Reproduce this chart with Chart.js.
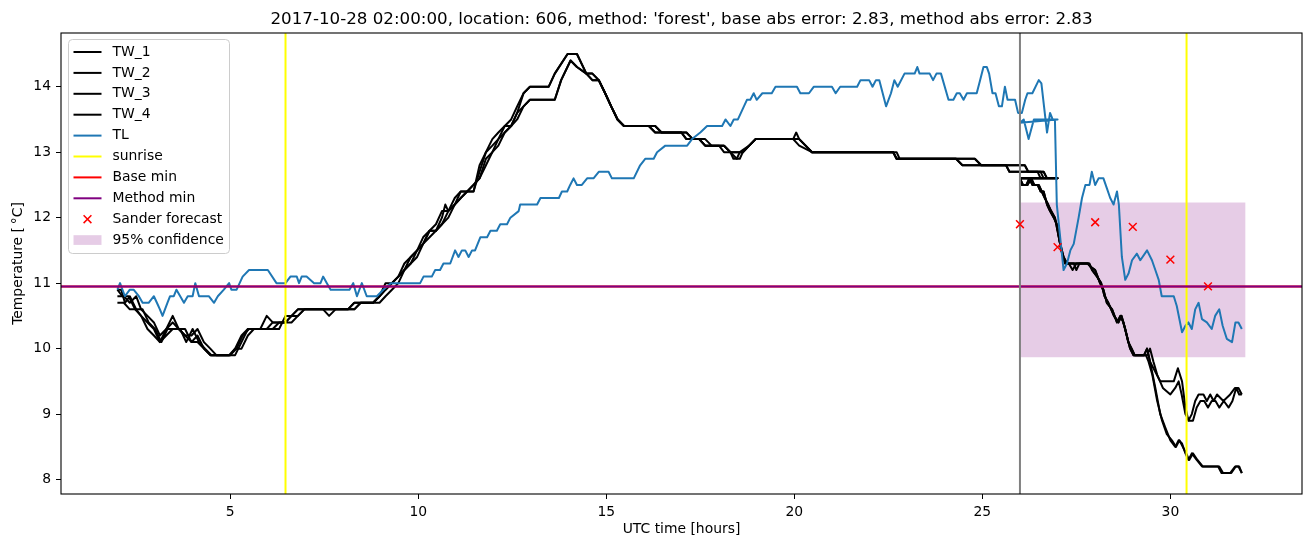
<!DOCTYPE html>
<html>
<head>
<meta charset="utf-8">
<script src="https://cdn.jsdelivr.net/npm/chart.js@4.4.1/dist/chart.umd.min.js"></script>
<style>
  html, body { margin: 0; padding: 0; background: #fff; }
  canvas { display: block; }
</style>
</head>
<body>
<canvas id="temp-chart" width="1311" height="547"></canvas>
<script>
const titleText = "2017-10-28 02:00:00, location: 606, method: 'forest', base abs error: 2.83, method abs error: 2.83";
const xLabel = "UTC time [hours]";
const yLabel = "Temperature [\u2009\u00B0C]";
const xTicks = [5, 10, 15, 20, 25, 30];
const yTicks = [8, 9, 10, 11, 12, 13, 14];
const xRange = [0.5, 33.5];
const yRange = [7.78, 14.82];

// [hour, temperature]; each series jumps back to 26 h where the forecast part starts
const tw1 = [
  [2.0,10.9],[2.13,10.8],[2.3,10.8],[2.47,10.6],[2.63,10.5],[2.8,10.4],[2.97,10.3],[3.13,10.1],[3.3,10.3],[3.47,10.5],
  [3.63,10.3],[3.8,10.3],[3.97,10.1],[4.13,10.2],[4.3,10.0],[4.47,9.9],[4.97,9.9],[5.13,10.0],[5.3,10.2],[5.47,10.3],
  [5.97,10.3],[6.13,10.4],[6.47,10.4],[6.63,10.5],[6.8,10.6],[7.47,10.6],[7.63,10.5],[7.8,10.6],[8.13,10.6],[8.3,10.7],
  [8.8,10.7],[8.97,10.8],[9.13,10.9],[9.3,11.0],[9.47,11.1],[9.63,11.2],[9.8,11.4],[9.97,11.5],[10.13,11.6],[10.3,11.8],
  [10.47,11.8],[10.63,12.0],[10.72,12.2],[10.8,12.1],[10.97,12.2],[11.13,12.4],[11.47,12.4],[11.63,12.7],[11.8,13.0],[11.97,13.1],
  [12.13,13.2],[12.3,13.4],[12.47,13.4],[12.63,13.6],[12.8,13.9],[12.97,14.0],[13.47,14.0],[13.63,14.2],[13.97,14.5],[14.22,14.5],
  [14.47,14.2],[14.63,14.2],[14.8,14.1],[14.97,13.9],[15.13,13.7],[15.3,13.5],[15.47,13.4],[16.13,13.4],[16.3,13.3],[17.0,13.3],
  [17.13,13.2],[17.47,13.2],[17.63,13.1],[18.0,13.1],[18.13,13.0],[18.3,13.0],[18.47,12.9],[18.55,12.9],[18.63,13.0],[18.8,13.1],
  [18.97,13.2],[19.97,13.2],[20.13,13.1],[20.47,13.0],[22.63,13.0],[22.72,12.9],[24.3,12.9],[24.47,12.8],[25.63,12.8],[25.72,12.7],
  [26.63,12.7],[26.72,12.6],[27.0,12.6],
  [26.0,12.6],[26.05,12.5],[26.17,12.5],[26.25,12.6],[26.33,12.5],[26.47,12.5],[26.55,12.4],[26.63,12.4],[26.72,12.2],[26.8,12.1],
  [26.9,12.0],[26.98,11.9],[27.07,11.6],[27.16,11.4],[27.25,11.3],[27.8,11.3],[27.88,11.25],[28.0,11.2],[28.13,11.0],[28.22,10.9],
  [28.31,10.7],[28.45,10.6],[28.58,10.4],[28.67,10.5],[28.75,10.4],[28.84,10.2],[28.93,10.0],[29.02,9.9],[29.3,9.9],[29.38,10.0],
  [29.46,9.8],[29.6,9.4],[29.73,9.0],[29.86,8.8],[30.0,8.6],[30.13,8.5],[30.22,8.6],[30.31,8.55],[30.4,8.4],[30.48,8.3],
  [30.57,8.4],[30.7,8.3],[30.84,8.2],[31.27,8.2],[31.36,8.1],[31.59,8.1],[31.72,8.2],[31.81,8.2],[31.9,8.1]
];
const tw2 = [
  [2.0,10.8],[2.17,10.8],[2.33,10.7],[2.5,10.8],[2.63,10.6],[2.8,10.5],[2.97,10.4],[3.13,10.2],[3.3,10.3],[3.47,10.4],
  [3.63,10.3],[3.8,10.2],[3.97,10.2],[4.13,10.3],[4.3,10.1],[4.47,10.0],[4.63,9.9],[5.13,9.9],[5.3,10.1],[5.47,10.3],
  [5.8,10.3],[5.97,10.5],[6.13,10.4],[6.47,10.4],[6.63,10.5],[6.8,10.6],[8.3,10.6],[8.47,10.7],[8.8,10.7],[8.97,10.8],
  [9.13,11.0],[9.3,11.0],[9.47,11.1],[9.63,11.3],[9.8,11.4],[9.97,11.5],[10.13,11.7],[10.3,11.8],[10.47,11.9],[10.63,12.1],
  [10.8,12.1],[10.97,12.3],[11.13,12.4],[11.47,12.4],[11.63,12.8],[11.8,13.0],[11.97,13.2],[12.13,13.3],[12.3,13.4],[12.47,13.5],
  [12.63,13.7],[12.8,13.9],[12.97,14.0],[13.47,14.0],[13.63,14.2],[13.97,14.5],[14.22,14.5],[14.47,14.2],[14.63,14.1],[14.8,14.1],
  [14.97,13.9],[15.13,13.7],[15.3,13.5],[15.47,13.4],[16.3,13.4],[16.47,13.3],[17.13,13.3],[17.3,13.2],[17.47,13.2],[17.63,13.1],
  [18.13,13.1],[18.3,13.0],[18.63,13.0],[18.8,13.1],[18.97,13.2],[20.13,13.2],[20.3,13.1],[20.47,13.0],[22.63,13.0],[22.72,12.9],
  [24.8,12.9],[24.97,12.8],[26.13,12.8],[26.22,12.7],[26.63,12.7],[26.72,12.6],[27.0,12.6],
  [26.0,12.6],[26.05,12.5],[26.17,12.5],[26.25,12.6],[26.33,12.5],[26.47,12.5],[26.55,12.4],[26.63,12.4],[26.72,12.2],[26.8,12.1],
  [26.9,12.0],[26.98,11.9],[27.07,11.6],[27.16,11.4],[27.25,11.3],[27.43,11.3],[27.5,11.2],[27.58,11.3],[27.8,11.3],[27.88,11.25],
  [28.0,11.2],[28.13,11.0],[28.22,10.9],[28.31,10.7],[28.45,10.6],[28.58,10.4],[28.67,10.5],[28.75,10.4],[28.84,10.2],[28.93,10.0],
  [29.02,9.9],[29.3,9.9],[29.38,10.0],[29.46,9.8],[29.55,9.7],[29.73,9.5],[30.09,9.5],[30.2,9.7],[30.31,9.5],[30.4,9.1],
  [30.48,8.9],[30.57,9.0],[30.66,9.2],[30.75,9.3],[30.88,9.3],[30.97,9.2],[31.06,9.3],[31.15,9.2],[31.24,9.3],[31.41,9.2],
  [31.59,9.3],[31.72,9.4],[31.81,9.4],[31.9,9.3]
];
const tw3 = [
  [2.0,10.7],[2.17,10.7],[2.33,10.6],[2.5,10.6],[2.63,10.5],[2.8,10.3],[2.97,10.2],[3.13,10.1],[3.3,10.2],[3.47,10.3],
  [3.63,10.3],[3.8,10.2],[3.97,10.1],[4.13,10.1],[4.3,10.0],[4.47,9.9],[5.0,9.9],[5.13,10.0],[5.3,10.0],[5.47,10.2],
  [5.63,10.3],[6.13,10.3],[6.3,10.4],[6.63,10.4],[6.8,10.5],[6.97,10.6],[8.3,10.6],[8.47,10.7],[8.97,10.7],[9.13,10.8],
  [9.3,10.9],[9.47,11.0],[9.63,11.2],[9.8,11.3],[9.97,11.4],[10.13,11.6],[10.3,11.7],[10.47,11.8],[10.63,11.9],[10.8,12.0],
  [10.97,12.2],[11.13,12.3],[11.3,12.4],[11.63,12.6],[11.8,12.8],[11.97,13.0],[12.13,13.1],[12.3,13.3],[12.47,13.4],[12.63,13.5],
  [12.8,13.7],[12.97,13.8],[13.63,13.8],[13.8,14.1],[14.05,14.4],[14.22,14.3],[14.47,14.2],[14.63,14.2],[14.8,14.1],[14.97,13.9],
  [15.13,13.7],[15.3,13.5],[15.47,13.4],[16.13,13.4],[16.3,13.3],[17.13,13.3],[17.3,13.2],[17.63,13.2],[17.8,13.1],[18.13,13.1],
  [18.3,13.0],[18.63,13.0],[18.8,13.1],[18.97,13.2],[19.97,13.2],[20.05,13.3],[20.13,13.2],[20.3,13.1],[20.47,13.0],[22.63,13.0],
  [22.72,12.9],[24.3,12.9],[24.47,12.8],[25.63,12.8],[25.72,12.7],[26.47,12.7],[26.55,12.6],[27.0,12.6],
  [26.0,12.6],[26.08,12.5],[26.2,12.5],[26.3,12.6],[26.38,12.5],[26.5,12.5],[26.58,12.4],[26.66,12.3],[26.75,12.2],[26.83,12.1],
  [26.93,12.0],[27.0,11.8],[27.1,11.5],[27.2,11.3],[27.3,11.3],[27.4,11.2],[27.5,11.3],[27.83,11.3],[27.92,11.2],[28.05,11.1],
  [28.16,11.0],[28.25,10.8],[28.35,10.7],[28.5,10.5],[28.62,10.4],[28.7,10.5],[28.8,10.3],[28.88,10.1],[28.97,10.0],[29.05,9.9],
  [29.35,9.9],[29.42,9.8],[29.52,9.6],[29.65,9.2],[29.78,8.9],[29.9,8.7],[30.04,8.6],[30.15,8.5],[30.24,8.6],[30.33,8.5],
  [30.42,8.4],[30.5,8.3],[30.6,8.4],[30.72,8.3],[30.86,8.2],[31.3,8.2],[31.4,8.1],[31.62,8.1],[31.74,8.2],[31.83,8.2],[31.9,8.1]
];
const tw4 = [
  [2.0,10.9],[2.1,10.9],[2.2,10.7],[2.33,10.8],[2.5,10.6],[2.67,10.6],[2.83,10.4],[3.0,10.3],[3.17,10.1],[3.33,10.3],
  [3.5,10.3],[3.67,10.3],[3.83,10.1],[4.0,10.3],[4.17,10.1],[4.33,10.0],[4.5,9.9],[5.0,9.9],[5.17,10.0],[5.33,10.2],
  [5.5,10.3],[6.3,10.3],[6.47,10.5],[6.8,10.5],[6.97,10.6],[8.13,10.6],[8.3,10.7],[8.8,10.7],[8.97,10.8],[9.13,10.9],
  [9.3,11.0],[9.47,11.1],[9.63,11.2],[9.8,11.3],[9.97,11.5],[10.13,11.6],[10.3,11.8],[10.47,11.8],[10.63,11.9],[10.8,12.1],
  [10.97,12.2],[11.13,12.3],[11.3,12.4],[11.47,12.5],[11.63,12.6],[11.8,12.9],[11.97,13.0],[12.13,13.2],[12.3,13.3],[12.47,13.4],
  [12.63,13.6],[12.8,13.7],[12.97,13.8],[13.63,13.8],[13.8,14.1],[14.05,14.4],[14.22,14.3],[14.47,14.2],[14.63,14.1],[14.8,14.1],
  [14.97,13.9],[15.13,13.7],[15.3,13.5],[15.47,13.4],[16.3,13.4],[16.47,13.3],[17.0,13.3],[17.13,13.2],[17.47,13.2],[17.63,13.1],
  [18.13,13.1],[18.3,13.0],[18.38,12.9],[18.47,12.9],[18.55,13.0],[18.8,13.1],[18.97,13.2],[20.13,13.2],[20.3,13.1],[20.47,13.0],
  [22.72,13.0],[22.8,12.9],[24.8,12.9],[24.97,12.8],[26.13,12.8],[26.22,12.7],[26.55,12.7],[26.63,12.6],[27.0,12.6],
  [26.0,12.6],[26.08,12.5],[26.2,12.5],[26.3,12.6],[26.38,12.5],[26.5,12.5],[26.58,12.4],[26.66,12.3],[26.75,12.2],[26.83,12.1],
  [26.93,12.0],[27.0,11.8],[27.1,11.5],[27.2,11.3],[27.85,11.3],[27.92,11.2],[28.05,11.1],[28.16,11.0],[28.25,10.8],[28.35,10.7],
  [28.5,10.5],[28.62,10.4],[28.7,10.5],[28.8,10.3],[28.88,10.1],[28.97,10.0],[29.05,9.9],[29.38,9.9],[29.46,10.0],[29.55,9.8],
  [29.65,9.6],[29.8,9.4],[30.0,9.3],[30.13,9.4],[30.22,9.5],[30.3,9.3],[30.4,9.0],[30.5,8.9],[30.6,8.9],[30.7,9.1],
  [30.8,9.2],[30.9,9.2],[31.0,9.1],[31.1,9.2],[31.2,9.2],[31.3,9.1],[31.42,9.2],[31.55,9.1],[31.65,9.2],[31.75,9.4],
  [31.83,9.3],[31.9,9.3]
];
const tl = [
  [2.0,10.9],[2.07,11.0],[2.2,10.8],[2.33,10.9],[2.43,10.9],[2.57,10.8],[2.67,10.7],[2.83,10.7],[2.97,10.8],[3.05,10.7],
  [3.13,10.6],[3.2,10.5],[3.33,10.7],[3.4,10.8],[3.5,10.8],[3.57,10.9],[3.67,10.8],[3.77,10.7],[3.87,10.8],[4.0,10.8],
  [4.07,11.0],[4.17,10.8],[4.43,10.8],[4.57,10.7],[4.67,10.8],[4.83,10.9],[4.97,11.0],[5.03,10.9],[5.17,10.9],[5.33,11.1],
  [5.5,11.2],[6.0,11.2],[6.23,11.0],[6.47,11.0],[6.6,11.1],[6.77,11.1],[6.83,11.0],[6.9,11.1],[7.03,11.1],[7.23,11.0],
  [7.4,11.0],[7.47,11.1],[7.57,11.0],[7.67,10.9],[8.17,10.9],[8.27,11.0],[8.37,10.8],[8.5,11.0],[8.63,10.8],[8.9,10.8],
  [9.07,10.9],[9.27,11.0],[10.05,11.0],[10.14,11.1],[10.36,11.1],[10.45,11.2],[10.58,11.2],[10.67,11.3],[10.85,11.3],[10.98,11.5],
  [11.07,11.4],[11.16,11.5],[11.25,11.5],[11.34,11.4],[11.43,11.5],[11.51,11.5],[11.65,11.7],[11.83,11.7],[11.92,11.8],[12.09,11.8],
  [12.18,11.9],[12.36,11.9],[12.45,12.0],[12.67,12.1],[12.71,12.2],[13.16,12.2],[13.25,12.3],[13.74,12.3],[13.82,12.4],[13.96,12.4],
  [14.04,12.5],[14.13,12.6],[14.22,12.5],[14.35,12.5],[14.49,12.6],[14.66,12.6],[14.8,12.7],[15.06,12.7],[15.15,12.6],[15.73,12.6],
  [15.9,12.8],[16.04,12.9],[16.26,12.9],[16.35,13.0],[16.57,13.1],[17.15,13.1],[17.28,13.2],[17.5,13.3],[17.68,13.4],[18.08,13.4],
  [18.17,13.5],[18.3,13.4],[18.39,13.5],[18.5,13.5],[18.74,13.8],[18.83,13.8],[18.92,13.9],[19.0,13.8],[19.15,13.9],[19.4,13.9],
  [19.5,14.0],[20.07,14.0],[20.16,13.9],[20.39,13.9],[20.52,14.0],[21.0,14.0],[21.1,13.9],[21.22,14.0],[21.67,14.0],[21.76,14.1],
  [21.99,14.1],[22.08,14.0],[22.17,14.1],[22.26,14.1],[22.44,13.7],[22.57,13.9],[22.66,14.1],[22.75,14.0],[22.93,14.2],[23.2,14.2],
  [23.27,14.3],[23.33,14.2],[23.6,14.2],[23.69,14.1],[23.78,14.2],[23.9,14.2],[24.1,13.8],[24.23,13.8],[24.32,13.9],[24.4,13.9],
  [24.5,13.8],[24.59,13.9],[24.85,13.9],[24.94,14.1],[25.03,14.3],[25.12,14.3],[25.18,14.2],[25.27,13.9],[25.35,13.9],[25.44,13.7],
  [25.52,13.7],[25.6,14.0],[25.67,13.8],[25.87,13.8],[25.95,13.6],[26.05,13.6],[26.14,13.8],[26.2,13.9],[26.33,13.9],[26.5,14.1],
  [26.57,14.05],[26.64,13.7],[26.72,13.3],[26.8,13.6],[26.87,13.5],[27.0,13.5],
  [26.0,13.45],[26.1,13.5],[26.23,13.2],[26.37,13.5],[26.93,13.5],[26.98,12.2],[27.16,11.2],[27.25,11.3],[27.34,11.5],[27.43,11.6],
  [27.56,12.0],[27.65,12.3],[27.74,12.5],[27.85,12.5],[27.91,12.7],[28.0,12.5],[28.09,12.6],[28.22,12.6],[28.31,12.45],[28.4,12.3],
  [28.49,12.2],[28.58,12.4],[28.63,12.2],[28.71,11.4],[28.8,11.05],[28.89,11.15],[28.98,11.35],[29.11,11.45],[29.2,11.35],[29.38,11.5],
  [29.51,11.35],[29.6,11.2],[29.69,11.05],[29.77,10.8],[30.09,10.8],[30.17,10.65],[30.31,10.25],[30.4,10.35],[30.48,10.4],[30.57,10.3],
  [30.66,10.6],[30.75,10.7],[30.84,10.45],[30.97,10.4],[31.1,10.3],[31.19,10.5],[31.3,10.6],[31.39,10.35],[31.5,10.15],[31.64,10.1],
  [31.73,10.4],[31.81,10.4],[31.9,10.3]
];

const sunriseHours = [6.47, 30.43];
const forecastStart = 26;
const baseMin = 10.95;
const methodMin = 10.95;
const sanderHours = [26, 27, 28, 29, 30, 31];
const sanderValues = [11.9, 11.55, 11.93, 11.86, 11.36, 10.95];
const confHours = [26, 32];
const confLow = 9.87;
const confHigh = 12.23;

const FONT = "'DejaVu Sans', 'Liberation Sans', sans-serif";
const toPoints = (pairs) => pairs.map(([x, y]) => ({ x, y }));

function lineSet(label, data, color, order) {
  return {
    label,
    data,
    borderColor: color,
    backgroundColor: color,
    borderWidth: 2,
    pointRadius: 0,
    tension: 0,
    fill: false,
    borderJoinStyle: "round",
    order,
  };
}

const datasets = [
  {
    label: "95% confidence",
    data: toPoints(confHours.map((h) => [h, confHigh])),
    borderWidth: 0,
    pointRadius: 0,
    backgroundColor: "rgba(128, 0, 128, 0.2)",
    fill: "+1",
    order: 100,
  },
  {
    label: "conf low",
    data: toPoints(confHours.map((h) => [h, confLow])),
    borderWidth: 0,
    pointRadius: 0,
    fill: false,
    order: 99,
  },
  lineSet("TW_1", toPoints(tw1), "#000000", 60),
  lineSet("TW_2", toPoints(tw2), "#000000", 59),
  lineSet("TW_3", toPoints(tw3), "#000000", 58),
  lineSet("TW_4", toPoints(tw4), "#000000", 57),
  lineSet("TL", toPoints(tl), "#1f77b4", 50),
  ...sunriseHours.map((h) =>
    lineSet("sunrise", toPoints([[h, yRange[0]], [h, yRange[1]]]), "#ffff00", 40)
  ),
  lineSet("Base min", toPoints([[xRange[0], baseMin], [xRange[1], baseMin]]), "#ff0000", 35),
  lineSet("Method min", toPoints([[xRange[0], methodMin], [xRange[1], methodMin]]), "#800080", 30),
  lineSet("forecast start", toPoints([[forecastStart, yRange[0]], [forecastStart, yRange[1]]]), "#808080", 25),
  {
    label: "Sander forecast",
    data: toPoints(sanderHours.map((h, i) => [h, sanderValues[i]])),
    showLine: false,
    pointStyle: "crossRot",
    pointRadius: 5.5,
    pointBorderWidth: 1.5,
    pointBorderColor: "#ff0000",
    pointBackgroundColor: "#ff0000",
    order: 10,
  },
];

const legendItems = [
  { text: "TW_1", kind: "line", color: "#000000" },
  { text: "TW_2", kind: "line", color: "#000000" },
  { text: "TW_3", kind: "line", color: "#000000" },
  { text: "TW_4", kind: "line", color: "#000000" },
  { text: "TL", kind: "line", color: "#1f77b4" },
  { text: "sunrise", kind: "line", color: "#ffff00" },
  { text: "Base min", kind: "line", color: "#ff0000" },
  { text: "Method min", kind: "line", color: "#800080" },
  { text: "Sander forecast", kind: "cross", color: "#ff0000" },
  { text: "95% confidence", kind: "patch", color: "rgba(128, 0, 128, 0.2)" },
];

function roundRect(ctx, x, y, w, h, r) {
  ctx.beginPath();
  ctx.moveTo(x + r, y);
  ctx.arcTo(x + w, y, x + w, y + h, r);
  ctx.arcTo(x + w, y + h, x, y + h, r);
  ctx.arcTo(x, y + h, x, y, r);
  ctx.arcTo(x, y, x + w, y, r);
  ctx.closePath();
}

const decorations = {
  id: "decorations",
  afterDatasetsDraw(chart) {
    const { ctx, chartArea: a } = chart;
    ctx.save();
    ctx.strokeStyle = "#000";
    ctx.lineWidth = 1.1;
    ctx.strokeRect(a.left, a.top, a.right - a.left, a.bottom - a.top);
    ctx.restore();
  },
  afterDraw(chart) {
    const { ctx, chartArea: a } = chart;
    ctx.save();
    ctx.fillStyle = "#000";

    ctx.font = "16.7px " + FONT;
    ctx.textAlign = "center";
    ctx.textBaseline = "alphabetic";
    ctx.fillText(titleText, (a.left + a.right) / 2, 24);

    ctx.font = "13.9px " + FONT;
    ctx.textBaseline = "middle";
    ctx.fillText(xLabel, (a.left + a.right) / 2, 529);

    ctx.save();
    ctx.translate(18, (a.top + a.bottom) / 2);
    ctx.rotate(-Math.PI / 2);
    ctx.fillText(yLabel, 0, 0);
    ctx.restore();

    // legend box, upper left
    const bx = a.left + 7.5, by = a.top + 6.5, bw = 161, bh = 214;
    roundRect(ctx, bx, by, bw, bh, 4);
    ctx.fillStyle = "rgba(255, 255, 255, 0.8)";
    ctx.fill();
    ctx.strokeStyle = "#cccccc";
    ctx.lineWidth = 1;
    ctx.stroke();

    legendItems.forEach((item, i) => {
      const y = by + 12.5 + i * 20.9;
      const x0 = bx + 5, x1 = bx + 33;
      if (item.kind === "line") {
        ctx.strokeStyle = item.color;
        ctx.lineWidth = 2;
        ctx.beginPath();
        ctx.moveTo(x0, y);
        ctx.lineTo(x1, y);
        ctx.stroke();
      } else if (item.kind === "cross") {
        const cx = (x0 + x1) / 2, r = 3.9;
        ctx.strokeStyle = item.color;
        ctx.lineWidth = 1.5;
        ctx.beginPath();
        ctx.moveTo(cx - r, y - r);
        ctx.lineTo(cx + r, y + r);
        ctx.moveTo(cx - r, y + r);
        ctx.lineTo(cx + r, y - r);
        ctx.stroke();
      } else {
        ctx.fillStyle = item.color;
        ctx.fillRect(x0, y - 4.9, x1 - x0, 9.7);
      }
      ctx.fillStyle = "#000";
      ctx.textAlign = "left";
      ctx.textBaseline = "middle";
      ctx.fillText(item.text, bx + 44, y);
    });
    ctx.restore();
  },
};

const tickFont = { family: FONT, size: 13.9 };

const options = {
  type: "line",
  data: { datasets },
  options: {
    responsive: false,
    animation: false,
    layout: { padding: { top: 33, right: 9, left: 0, bottom: 0 } },
    plugins: {
      legend: { display: false },
      tooltip: { enabled: false },
    },
    scales: {
      x: {
        type: "linear",
        min: xRange[0],
        max: xRange[1],
        afterBuildTicks: (scale) => {
          scale.ticks = xTicks.map((v) => ({ value: v }));
        },
        afterFit: (scale) => {
          scale.height = 53;
        },
        ticks: { color: "#000", font: tickFont, padding: 5, maxRotation: 0 },
        grid: { drawOnChartArea: false, drawTicks: true, tickLength: 5, color: "#000" },
        border: { display: false },
      },
      y: {
        type: "linear",
        min: yRange[0],
        max: yRange[1],
        afterBuildTicks: (scale) => {
          scale.ticks = yTicks.map((v) => ({ value: v }));
        },
        afterFit: (scale) => {
          scale.width = 61;
        },
        ticks: { color: "#000", font: tickFont, padding: 5 },
        grid: { drawOnChartArea: false, drawTicks: true, tickLength: 5, color: "#000" },
        border: { display: false },
      },
    },
  },
  plugins: [decorations],
};

const canvas = document.querySelector("#temp-chart");
new Chart(canvas, options);
</script>
</body>
</html>
